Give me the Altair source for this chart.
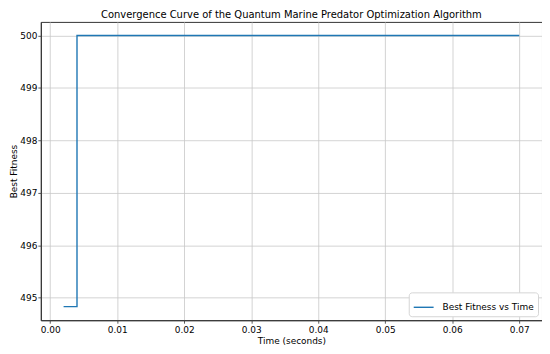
import altair as alt
import pandas as pd

times = [0.002, 0.004, 0.07]
fitness = [494.83, 500.0, 500.0]
series = ["Best Fitness vs Time"] * 3

df = pd.DataFrame({"time": times, "fitness": fitness, "series": series})

x_ticks = [0.0, 0.01, 0.02, 0.03, 0.04, 0.05, 0.06, 0.07]
y_ticks = [495, 496, 497, 498, 499, 500]

font = "DejaVu Sans"
fs = 9

chart = alt.Chart(df).mark_line(interpolate="step-after", strokeWidth=1.4, color="#1f77b4").encode(
    x=alt.X("time:Q", scale=alt.Scale(domain=[-0.0014, 0.0734], nice=False, zero=False),
            axis=alt.Axis(values=x_ticks, format=".2f", title="Time (seconds)")),
    y=alt.Y("fitness:Q", scale=alt.Scale(domain=[494.57, 500.26], nice=False, zero=False),
            axis=alt.Axis(values=y_ticks, format="d", title="Best Fitness")),
    color=alt.Color("series:N", scale=alt.Scale(range=["#1f77b4"]),
                    legend=alt.Legend(title=None, orient="bottom-right", symbolType="stroke",
                                      symbolStrokeWidth=1.4, symbolSize=400,
                                      labelFont=font, labelFontSize=fs, labelColor="#000",
                                      labelOffset=8,
                                      fillColor="white", strokeColor="#d5d5d5", padding=4,
                                      cornerRadius=3, offset=4)),
).properties(
    width=504, height=300,
    title=alt.TitleParams("Convergence Curve of the Quantum Marine Predator Optimization Algorithm",
                          font=font, fontSize=10, fontWeight="normal", color="#000", offset=2),
    autosize=alt.AutoSizeParams(type="none"),
    padding={"left": 33, "top": 13, "right": 0, "bottom": 33},
).configure_axis(
    labelFont=font, labelFontSize=fs, labelColor="#000",
    titleFont=font, titleFontSize=fs, titleColor="#000", titleFontWeight="normal",
    grid=True, gridColor="#c8c8c8", gridWidth=0.8,
    domainColor="#333", domainWidth=1, tickColor="#333", tickSize=3, tickWidth=0.8,
).configure_axisX(titlePadding=2, labelPadding=2).configure_axisY(titlePadding=1, labelPadding=1
).configure_view(stroke="#333", strokeWidth=1)

chart.save("out.html", embed_options={"renderer": "svg", "actions": False})
